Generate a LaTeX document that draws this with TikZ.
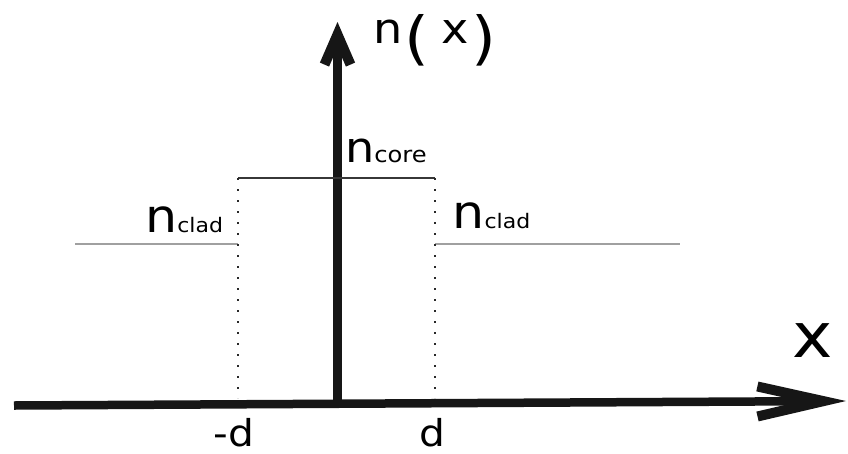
\documentclass[tikz,border=0pt]{standalone}
\usepackage{fontspec}
\setmainfont{DejaVu Sans}[FakeStretch=1.1]
\usetikzlibrary{arrows.meta}
\definecolor{AxisBlack}{RGB}{22,22,22}
\definecolor{CoreGray}{RGB}{55,55,55}
\definecolor{CladGray}{RGB}{160,160,160}
\definecolor{DotGray}{RGB}{40,40,40}
\newcommand{\nidx}[3]{{\fontsize{#1}{#1}\selectfont n}{\fontsize{#2}{#2}\selectfont #3}}
\tikzset{
  axisline/.style={line width=8.5pt,draw=AxisBlack,line cap=butt},
  coreline/.style={line width=1.2pt,draw=CoreGray},
  cladline/.style={line width=1.4pt,draw=CladGray},
  edgeline/.style={line width=2pt,draw=DotGray,dash pattern=on 2pt off 9pt},
  lbl/.style={inner sep=0pt,outer sep=0pt,text=black}
}

\begin{document}
\begin{tikzpicture}[x=1pt,y=-1pt]
  \useasboundingbox (0,0) rectangle (848,453);
  % axes
  \coordinate (origin) at (337.5,405);
  \coordinate (xstart) at (14,405.5);
  \coordinate (xend) at (846,401);
  \coordinate (yend) at (337.5,22);
  \draw[axisline,-{Straight Barb[length=66pt,width=30pt,line width=10pt]}] (xstart) -- (xend);
  \draw[axisline,-{Straight Barb[length=30pt,width=26pt,line width=10pt]}] (origin) -- (yend);
  % index profile
  \coordinate (cl) at (238,178);
  \coordinate (cr) at (435,178);
  \coordinate (kl) at (238,244);
  \coordinate (kr) at (435,244);
  \coordinate (ol) at (75,244);
  \coordinate (or) at (680,244);
  \coordinate (bl) at (238,398);
  \coordinate (br) at (435,398);
  \draw[coreline] (cl) -- (cr);
  \draw[cladline] (ol) -- (kl);
  \draw[cladline] (kr) -- (or);
  \draw[edgeline] (cl) -- (bl);
  \draw[edgeline] (cr) -- (br);
  % labels
  \node[lbl,anchor=base west] (nx) at (373.8,43) {\fontsize{42}{42}\selectfont n\kern1.4pt\raisebox{-15pt}{\fontsize{58}{58}\selectfont(}\kern12.4pt x\kern2.7pt\raisebox{-15pt}{\fontsize{58}{58}\selectfont)}};
  \node[lbl,anchor=base] (xlab) at (812.5,357) {\fontsize{62}{62}\selectfont x};
  \node[lbl,anchor=base west] (ncore) at (345,162) {\nidx{42}{22}{core}};
  \node[lbl,anchor=base east] (ncladl) at (223,232) {\nidx{46}{20}{clad}};
  \node[lbl,anchor=base west] (ncladr) at (452.5,228) {\nidx{46}{20}{clad}};
  \node[lbl,anchor=base] (mdlab) at (234,446) {\fontsize{37}{37}\selectfont -d};
  \node[lbl,anchor=base] (dlab) at (432.5,446) {\fontsize{37}{37}\selectfont d};
\end{tikzpicture}
\end{document}
